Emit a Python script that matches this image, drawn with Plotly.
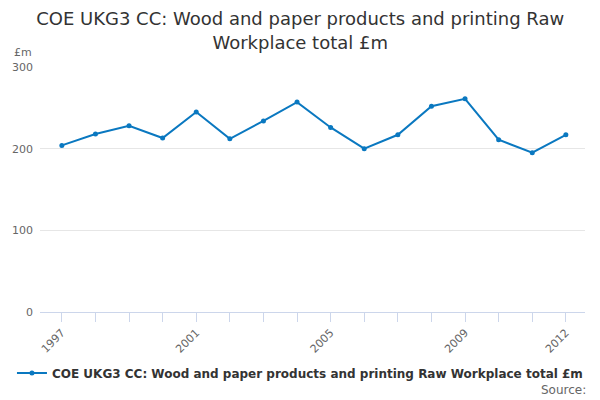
import plotly.graph_objects as go

years = list(range(1997, 2013))
values = [204, 218, 228, 213, 245, 212, 234, 257, 226, 200, 217, 252, 261, 211, 195, 217]
label_years = [1997, 2001, 2005, 2009, 2012]
y_ticks = [0, 100, 200, 300]

series_name = "COE UKG3 CC: Wood and paper products and printing Raw Workplace total £m"
color = "#0a78c0"
font = "DejaVu Sans"

fig = go.Figure()
fig.add_trace(go.Scatter(
    x=years, y=values, mode="lines+markers", name=series_name,
    line=dict(color=color, width=2), marker=dict(color=color, size=5),
))

fig.update_layout(
    width=600, height=400,
    paper_bgcolor="white", plot_bgcolor="white",
    margin=dict(l=32, r=23, t=59, b=96),
    font=dict(family=font, color="#333333"),
    title=dict(
        text="COE UKG3 CC: Wood and paper products and printing Raw<br>Workplace total £m",
        x=0.487, xanchor="center", y=0.957, yanchor="middle",
        font=dict(size=18, color="#333333", family=font),
    ),
    showlegend=True,
    legend=dict(
        orientation="h", x=0.477, xanchor="center", y=-0.249, yanchor="middle",
        font=dict(size=12, color="#333333", family=font, weight="bold"),
        itemwidth=30,
    ),
    xaxis=dict(
        range=[1996.35, 2012.57], automargin=False,
        tickmode="array", tickvals=label_years, ticktext=[str(v) for v in label_years],
        tickangle=-45, tickfont=dict(size=11, color="#666666", family=font),
        ticks="outside", ticklen=9, tickcolor="#ccd6eb", tickwidth=1,
        minor=dict(dtick=1, tick0=1997, ticks="outside", ticklen=9, tickcolor="#ccd6eb", tickwidth=1, showgrid=False),
        showline=True, linecolor="#ccd6eb", linewidth=1,
        showgrid=False, zeroline=False,
    ),
    yaxis=dict(
        range=[0, 300], tickvals=y_ticks, automargin=False,
        tickfont=dict(size=11, color="#666666", family=font),
        showgrid=True, gridcolor="#e6e6e6", gridwidth=1,
        zeroline=False, showline=False, ticks="", ticklabelstandoff=6,
    ),
    annotations=[
        dict(text="£m", xref="paper", yref="paper", x=0, y=1, xshift=-28, yshift=15,
             xanchor="left", yanchor="middle", showarrow=False,
             font=dict(size=11, color="#666666", family=font)),
        dict(text="Source:", xref="paper", yref="paper", x=1, y=0, xshift=3, yshift=-78,
             xanchor="right", yanchor="middle", showarrow=False,
             font=dict(size=12, color="#666666", family=font)),
    ],
)

fig.write_html("out.html")
